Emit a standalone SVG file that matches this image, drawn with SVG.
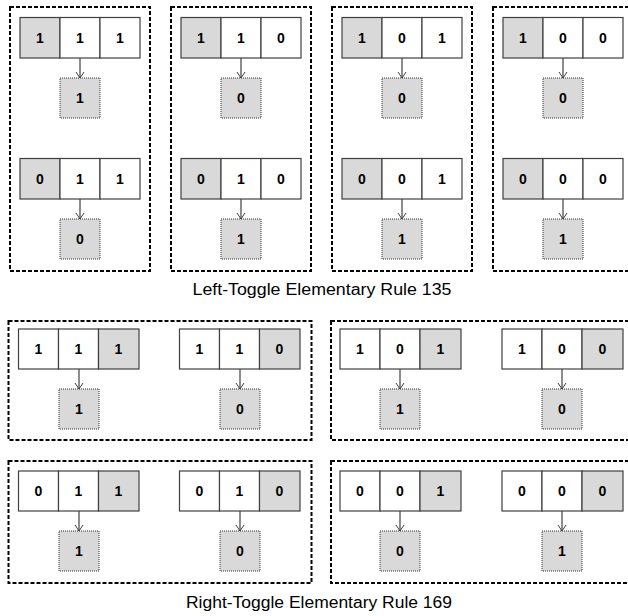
<svg xmlns="http://www.w3.org/2000/svg" width="628" height="616" viewBox="0 0 628 616">
<style>
.panel{fill:none;stroke:#000;stroke-width:2;stroke-dasharray:4 2}
.c{fill:#fff;stroke:#404040;stroke-width:1.2}
.s{fill:#d9d9d9;stroke:#404040;stroke-width:1.2}
.o{fill:#d9d9d9;stroke:#333;stroke-width:1;stroke-dasharray:1 1}
.t{font-family:"Liberation Sans",Arial,sans-serif;font-weight:bold;font-size:14px;text-anchor:middle;fill:#000}
.cap{font-family:"Liberation Sans",Arial,sans-serif;font-size:16px;text-anchor:middle;fill:#000}
.a{stroke:#404040;stroke-width:1.2;fill:none;marker-end:url(#v)}
</style>
<defs>
<marker id="v" markerWidth="10" markerHeight="10" refX="8" refY="5" orient="auto" markerUnits="userSpaceOnUse"><path d="M2,1 L8,5 L2,9" fill="none" stroke="#404040" stroke-width="1"/></marker>
</defs>
<rect width="628" height="616" fill="#fff"/>
<g id="panels">
<rect class="panel" x="10" y="7" width="140" height="264"/>
<rect class="panel" x="171" y="7" width="140" height="264"/>
<rect class="panel" x="332" y="7" width="140" height="264"/>
<rect class="panel" x="493" y="7" width="140" height="264"/>
<rect class="panel" x="8.5" y="321" width="303" height="119"/>
<rect class="panel" x="331" y="321" width="303" height="119"/>
<rect class="panel" x="8.5" y="461" width="303" height="122"/>
<rect class="panel" x="331" y="461" width="303" height="122"/>
</g>
<g id="connectors">
<line class="a" x1="80" y1="58" x2="80" y2="78"/>
<line class="a" x1="80" y1="199" x2="80" y2="219"/>
<line class="a" x1="241" y1="58" x2="241" y2="78"/>
<line class="a" x1="241" y1="199" x2="241" y2="219"/>
<line class="a" x1="402" y1="58" x2="402" y2="78"/>
<line class="a" x1="402" y1="199" x2="402" y2="219"/>
<line class="a" x1="563" y1="58" x2="563" y2="78"/>
<line class="a" x1="563" y1="199" x2="563" y2="219"/>
<line class="a" x1="79" y1="369" x2="79" y2="389"/>
<line class="a" x1="240" y1="369" x2="240" y2="389"/>
<line class="a" x1="400" y1="369" x2="400" y2="389"/>
<line class="a" x1="562" y1="369" x2="562" y2="389"/>
<line class="a" x1="79" y1="511" x2="79" y2="531"/>
<line class="a" x1="240" y1="511" x2="240" y2="531"/>
<line class="a" x1="400" y1="511" x2="400" y2="531"/>
<line class="a" x1="562" y1="511" x2="562" y2="531"/>
</g>
<!-- Rule 135 -->
<g id="n111a"><rect class="s" x="20" y="17.5" width="40" height="40.5"/><rect class="c" x="60" y="17.5" width="40" height="40.5"/><rect class="c" x="100" y="17.5" width="40" height="40.5"/><text class="t" x="40" y="42.5">1</text><text class="t" x="80" y="42.5">1</text><text class="t" x="120" y="42.5">1</text></g>
<g id="o111a"><rect class="o" x="60" y="78" width="40" height="40"/><text class="t" x="80" y="103">1</text></g>
<g id="n011a"><rect class="s" x="20" y="158.5" width="40" height="40.5"/><rect class="c" x="60" y="158.5" width="40" height="40.5"/><rect class="c" x="100" y="158.5" width="40" height="40.5"/><text class="t" x="40" y="183.5">0</text><text class="t" x="80" y="183.5">1</text><text class="t" x="120" y="183.5">1</text></g>
<g id="o011a"><rect class="o" x="60" y="219" width="40" height="40"/><text class="t" x="80" y="244">0</text></g>
<g id="n110a"><rect class="s" x="181" y="17.5" width="40" height="40.5"/><rect class="c" x="221" y="17.5" width="40" height="40.5"/><rect class="c" x="261" y="17.5" width="40" height="40.5"/><text class="t" x="201" y="42.5">1</text><text class="t" x="241" y="42.5">1</text><text class="t" x="281" y="42.5">0</text></g>
<g id="o110a"><rect class="o" x="221" y="78" width="40" height="40"/><text class="t" x="241" y="103">0</text></g>
<g id="n010a"><rect class="s" x="181" y="158.5" width="40" height="40.5"/><rect class="c" x="221" y="158.5" width="40" height="40.5"/><rect class="c" x="261" y="158.5" width="40" height="40.5"/><text class="t" x="201" y="183.5">0</text><text class="t" x="241" y="183.5">1</text><text class="t" x="281" y="183.5">0</text></g>
<g id="o010a"><rect class="o" x="221" y="219" width="40" height="40"/><text class="t" x="241" y="244">1</text></g>
<g id="n101a"><rect class="s" x="342" y="17.5" width="40" height="40.5"/><rect class="c" x="382" y="17.5" width="40" height="40.5"/><rect class="c" x="422" y="17.5" width="40" height="40.5"/><text class="t" x="362" y="42.5">1</text><text class="t" x="402" y="42.5">0</text><text class="t" x="442" y="42.5">1</text></g>
<g id="o101a"><rect class="o" x="382" y="78" width="40" height="40"/><text class="t" x="402" y="103">0</text></g>
<g id="n001a"><rect class="s" x="342" y="158.5" width="40" height="40.5"/><rect class="c" x="382" y="158.5" width="40" height="40.5"/><rect class="c" x="422" y="158.5" width="40" height="40.5"/><text class="t" x="362" y="183.5">0</text><text class="t" x="402" y="183.5">0</text><text class="t" x="442" y="183.5">1</text></g>
<g id="o001a"><rect class="o" x="382" y="219" width="40" height="40"/><text class="t" x="402" y="244">1</text></g>
<g id="n100a"><rect class="s" x="503" y="17.5" width="40" height="40.5"/><rect class="c" x="543" y="17.5" width="40" height="40.5"/><rect class="c" x="583" y="17.5" width="40" height="40.5"/><text class="t" x="523" y="42.5">1</text><text class="t" x="563" y="42.5">0</text><text class="t" x="603" y="42.5">0</text></g>
<g id="o100a"><rect class="o" x="543" y="78" width="40" height="40"/><text class="t" x="563" y="103">0</text></g>
<g id="n000a"><rect class="s" x="503" y="158.5" width="40" height="40.5"/><rect class="c" x="543" y="158.5" width="40" height="40.5"/><rect class="c" x="583" y="158.5" width="40" height="40.5"/><text class="t" x="523" y="183.5">0</text><text class="t" x="563" y="183.5">0</text><text class="t" x="603" y="183.5">0</text></g>
<g id="o000a"><rect class="o" x="543" y="219" width="40" height="40"/><text class="t" x="563" y="244">1</text></g>
<text id="cap1" class="cap" x="322" y="295" textLength="259" lengthAdjust="spacingAndGlyphs">Left-Toggle Elementary Rule 135</text>
<!-- Rule 169 -->
<g id="n111b"><rect class="c" x="18.5" y="329" width="40" height="40"/><rect class="c" x="58.5" y="329" width="40" height="40"/><rect class="s" x="98.5" y="329" width="40.5" height="40"/><text class="t" x="38.5" y="354">1</text><text class="t" x="78.5" y="354">1</text><text class="t" x="118.5" y="354">1</text></g>
<g id="o111b"><rect class="o" x="59" y="389" width="40" height="40"/><text class="t" x="79" y="414">1</text></g>
<g id="n110b"><rect class="c" x="179.5" y="329" width="40" height="40"/><rect class="c" x="219.5" y="329" width="40" height="40"/><rect class="s" x="259.5" y="329" width="40.5" height="40"/><text class="t" x="199.5" y="354">1</text><text class="t" x="239.5" y="354">1</text><text class="t" x="279.5" y="354">0</text></g>
<g id="o110b"><rect class="o" x="220" y="389" width="40" height="40"/><text class="t" x="240" y="414">0</text></g>
<g id="n101b"><rect class="c" x="340" y="329" width="40" height="40"/><rect class="c" x="380" y="329" width="40" height="40"/><rect class="s" x="420" y="329" width="41" height="40"/><text class="t" x="360" y="354">1</text><text class="t" x="400" y="354">0</text><text class="t" x="440.5" y="354">1</text></g>
<g id="o101b"><rect class="o" x="380" y="389" width="40" height="40"/><text class="t" x="400" y="414">1</text></g>
<g id="n100b"><rect class="c" x="502" y="329" width="40" height="40"/><rect class="c" x="542" y="329" width="40" height="40"/><rect class="s" x="582" y="329" width="41" height="40"/><text class="t" x="522" y="354">1</text><text class="t" x="562" y="354">0</text><text class="t" x="602.5" y="354">0</text></g>
<g id="o100b"><rect class="o" x="542" y="389" width="40" height="40"/><text class="t" x="562" y="414">0</text></g>
<g id="n011b"><rect class="c" x="18.5" y="471" width="40" height="40"/><rect class="c" x="58.5" y="471" width="40" height="40"/><rect class="s" x="98.5" y="471" width="40.5" height="40"/><text class="t" x="38.5" y="496">0</text><text class="t" x="78.5" y="496">1</text><text class="t" x="118.5" y="496">1</text></g>
<g id="o011b"><rect class="o" x="59" y="531" width="40" height="40"/><text class="t" x="79" y="556">1</text></g>
<g id="n010b"><rect class="c" x="179.5" y="471" width="40" height="40"/><rect class="c" x="219.5" y="471" width="40" height="40"/><rect class="s" x="259.5" y="471" width="40.5" height="40"/><text class="t" x="199.5" y="496">0</text><text class="t" x="239.5" y="496">1</text><text class="t" x="279.5" y="496">0</text></g>
<g id="o010b"><rect class="o" x="220" y="531" width="40" height="40"/><text class="t" x="240" y="556">0</text></g>
<g id="n001b"><rect class="c" x="340" y="471" width="40" height="40"/><rect class="c" x="380" y="471" width="40" height="40"/><rect class="s" x="420" y="471" width="41" height="40"/><text class="t" x="360" y="496">0</text><text class="t" x="400" y="496">0</text><text class="t" x="440.5" y="496">1</text></g>
<g id="o001b"><rect class="o" x="380" y="531" width="40" height="40"/><text class="t" x="400" y="556">0</text></g>
<g id="n000b"><rect class="c" x="502" y="471" width="40" height="40"/><rect class="c" x="542" y="471" width="40" height="40"/><rect class="s" x="582" y="471" width="41" height="40"/><text class="t" x="522" y="496">0</text><text class="t" x="562" y="496">0</text><text class="t" x="602.5" y="496">0</text></g>
<g id="o000b"><rect class="o" x="542" y="531" width="40" height="40"/><text class="t" x="562" y="556">1</text></g>
<text id="cap2" class="cap" x="319" y="608" textLength="266" lengthAdjust="spacingAndGlyphs">Right-Toggle Elementary Rule 169</text>
</svg>
